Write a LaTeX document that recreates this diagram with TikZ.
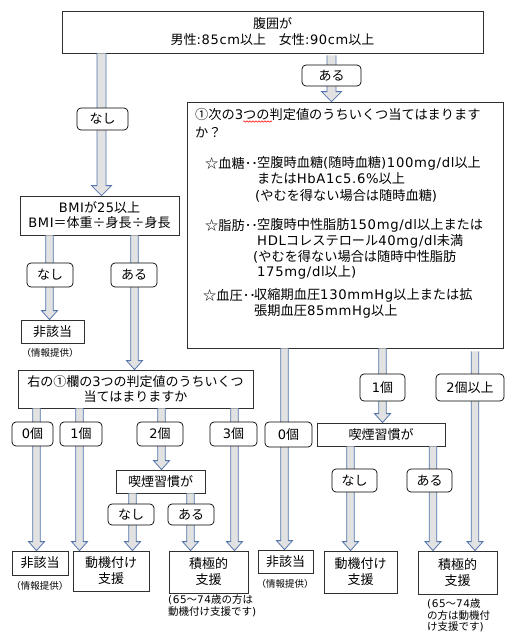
\documentclass[tikz,border=0pt]{standalone}
\usepackage{fontspec}
\setmainfont{Noto Sans CJK JP}
\newfontfamily\latf[LetterSpace=5]{DejaVu Sans}
\newcommand\lat[1]{{\latf #1}}
\usetikzlibrary{calc,decorations.pathmorphing}
\definecolor{arrblue}{HTML}{5474AE}
\definecolor{arrfill}{HTML}{E2E2E2}
\definecolor{boxline}{HTML}{303030}
\newcommand\fsz[2]{\fontsize{#1pt}{#2pt}\selectfont}
\newcommand\barrow[6]{%
 \draw[blockarr] let \p1=(#1), \p2=(#2) in
 ({#3pt-#4pt},\y1) -- ({#3pt-#4pt},{\y2+#6pt}) -- ({#3pt-#5pt},{\y2+#6pt}) -- (#3pt,\y2) -- ({#3pt+#5pt},{\y2+#6pt}) -- ({#3pt+#4pt},{\y2+#6pt}) -- ({#3pt+#4pt},\y1);}
\newcommand\bigarrow[3]{\barrow{#1}{#2}{#3}{4.5}{10}{10}}
\newcommand\smallarrow[3]{\barrow{#1}{#2}{#3}{3.8}{8}{9}}
\tikzset{
 box/.style={draw=boxline, line width=0.8pt, fill=white, inner sep=0pt, align=center, font=\fsz{13}{16}},
 lab/.style={draw=black, line width=0.7pt, fill=white, rounded corners=4pt, inner sep=0pt, font=\fsz{13}{16}},
 txt/.style={anchor=west, inner sep=0pt, font=\fsz{13.2}{16}},
 note/.style={inner sep=0pt, font=\fsz{9.5}{12}},
 note2/.style={inner sep=0pt, anchor=north west, align=left, font=\fsz{10.5}{12}},
 blockarr/.style={draw=arrblue, fill=arrfill, line width=0.8pt, line join=miter},
}
\begin{document}
\begin{tikzpicture}[x=1pt,y=-1pt]
\useasboundingbox[fill=white] (0,0) rectangle (521,640);
% boxes
\node[box, minimum width=421pt, minimum height=42pt] (top) at (272.5,32) {腹囲が\\男性\lat{:85cm}以上\hspace{1em}女性\lat{:90cm}以上};
\node[box, minimum width=316pt, minimum height=246pt] (q) at (345,225) {};
\node[box, minimum width=159pt, minimum height=39pt, font=\fsz{13}{15}] (bmi) at (99.5,215.5) {\lat{BMI}が\lat{25}以上\\\lat{BMI}＝体重÷身長÷身長};
\node[box, minimum width=63pt, minimum height=23pt] (hg0) at (52.5,331.5) {非該当};
\node[note] (hg0n) at (50,353) {（情報提供）};
\node[box, minimum width=235pt, minimum height=38pt, font=\fsz{13}{15}] (r1) at (135.5,389) {右の①欄の\lat{3}つの判定値のうちいくつ\\当てはまりますか};
\node[box, minimum width=89pt, minimum height=23pt] (smL) at (160.5,481.5) {喫煙習慣が};
\node[box, minimum width=128pt, minimum height=23pt] (smR) at (381,434.5) {喫煙習慣が};
\node[box, minimum width=56pt, minimum height=24pt] (hg1) at (40,563) {非該当};
\node[note] (hg1n) at (40,586) {（情報提供）};
\node[box, minimum width=76pt, minimum height=40pt] (dk1) at (111,571) {動機付け\\支援};
\node[box, minimum width=79pt, minimum height=42pt] (sk1) at (208.5,572) {積極的\\支援};
\node[note2] (sk1n) at (168,594.5) {\lat{(65}～\lat{74}歳の方は\\動機付け支援です\lat{)}};
\node[box, minimum width=55pt, minimum height=23pt] (hg2) at (285.5,561.5) {非該当};
\node[note] (hg2n) at (285,584) {（情報提供）};
\node[box, minimum width=73pt, minimum height=42pt] (dk2) at (360.5,572) {動機付け\\支援};
\node[box, minimum width=79pt, minimum height=43pt] (sk2) at (457.5,572.5) {積極的\\支援};
\node[note2, font=\fsz{10.5}{11.5}] (sk2n) at (427,598.5) {\lat{(65}～\lat{74}歳\\の方は動機付\\け支援です\lat{)}};
% text in big box
\node[txt] (q1) at (195,114) {①次の\lat{3}つの判定値のうちいくつ当てはまります};
\node[txt] (q2) at (195,132) {か？};
\node[txt] (a1) at (205,163) {☆血糖･･};
\node[txt] (a1a) at (257,163) {空腹時血糖\lat{(}随時血糖\lat{)100mg/dl}以上};
\node[txt] (a1b) at (257,179) {または\lat{HbA1c5.6\%}以上};
\node[txt] (a1c) at (255,196) {\lat{(}やむを得ない場合は随時血糖\lat{)}};
\node[txt] (b1) at (205,225) {☆脂肪･･};
\node[txt] (b1a) at (257,225) {空腹時中性脂肪\lat{150mg/dl}以上または};
\node[txt] (b1b) at (257,241) {\lat{HDL}コレステロール\lat{40mg/dl}未満};
\node[txt] (b1c) at (253,257) {\lat{(}やむを得ない場合は随時中性脂肪};
\node[txt] (b1d) at (257,272) {\lat{175mg/dl}以上\lat{)}};
\node[txt] (c1) at (203,295) {☆血圧･･};
\node[txt] (c1a) at (254,295) {収縮期血圧\lat{130mmHg}以上または拡};
\node[txt] (c1b) at (254,311) {張期血圧\lat{85mmHg}以上};
\draw[red, line width=0.5pt, decorate, decoration={snake, amplitude=0.7pt, segment length=3pt}] (243,121.5) -- (272,121.5);
% arrows
\bigarrow{top.south}{bmi.north}{101.5}
\bigarrow{$(top.south)+(0,2)$}{q.north}{331.5}
\smallarrow{bmi.south}{hg0.north}{49.5}
\smallarrow{bmi.south}{r1.north}{134.5}
\smallarrow{r1.south}{hg1.north}{36.5}
\smallarrow{r1.south}{dk1.north}{79.5}
\smallarrow{r1.south}{smL.north}{161.5}
\smallarrow{r1.south}{sk1.north}{234.5}
\smallarrow{smL.south}{dk1.north}{132.5}
\smallarrow{smL.south}{sk1.north}{190.5}
\smallarrow{q.south}{hg2.north}{284.5}
\smallarrow{q.south}{smR.north}{382.5}
\smallarrow{$(q.south)+(0,3)$}{sk2.north}{475}
\smallarrow{smR.south}{dk2.north}{350.5}
\smallarrow{smR.south}{sk2.north}{433}
% labels
\node[lab, minimum width=59pt, minimum height=21pt] (lt1) at (331.5,75.5) {ある};
\node[lab, minimum width=51pt, minimum height=22pt] (lt0) at (102.5,119) {なし};
\node[lab, minimum width=46pt, minimum height=24pt] (lb0) at (50,275) {なし};
\node[lab, minimum width=46pt, minimum height=24pt] (lb1) at (134,275) {ある};
\node[lab, minimum width=41pt, minimum height=24pt] (lc0) at (32.5,434) {\lat{0}個};
\node[lab, minimum width=42pt, minimum height=24pt] (lc1) at (81,434) {\lat{1}個};
\node[lab, minimum width=46pt, minimum height=24pt] (lc2) at (160,434) {\lat{2}個};
\node[lab, minimum width=47pt, minimum height=24pt] (lc3) at (233.5,434) {\lat{3}個};
\node[lab, minimum width=47pt, minimum height=25pt] (ld0) at (288.5,434.5) {\lat{0}個};
\node[lab, minimum width=45pt, minimum height=27pt] (ld1) at (382.5,387.5) {\lat{1}個};
\node[lab, minimum width=68pt, minimum height=27pt] (ld2) at (470,387.5) {\lat{2}個以上};
\node[lab, minimum width=46pt, minimum height=21pt] (le0) at (131,514.5) {なし};
\node[lab, minimum width=46pt, minimum height=21pt] (le1) at (191,514.5) {ある};
\node[lab, minimum width=45pt, minimum height=23pt] (lf0) at (354.5,480.5) {なし};
\node[lab, minimum width=45pt, minimum height=23pt] (lf1) at (429.5,480.5) {ある};
\end{tikzpicture}
\end{document}
